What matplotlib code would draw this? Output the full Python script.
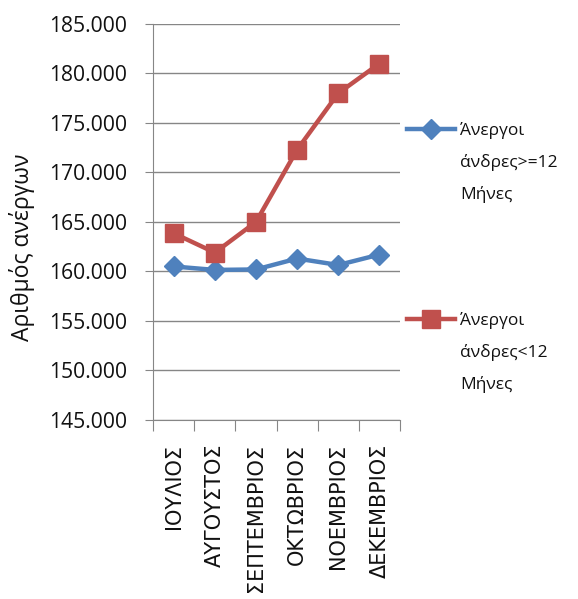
import matplotlib.pyplot as plt
import numpy as np
from matplotlib.lines import Line2D
from matplotlib.ticker import FuncFormatter, FixedLocator, NullFormatter

months = ["ΙΟΥΛΙΟΣ", "ΑΥΓΟΥΣΤΟΣ", "ΣΕΠΤΕΜΒΡΙΟΣ", "ΟΚΤΩΒΡΙΟΣ", "ΝΟΕΜΒΡΙΟΣ", "ΔΕΚΕΜΒΡΙΟΣ"]
long_term = [160500, 160150, 160200, 161300, 160650, 161700]
short_term = [163850, 161900, 165000, 172300, 178000, 181000]
label_long = ["Άνεργοι", "άνδρες>=12", "Μήνες"]
label_short = ["Άνεργοι", "άνδρες<12", "Μήνες"]

blue = "#4F81BD"
red = "#C0504D"
grid_c = "#868686"

plt.rcParams['font.family'] = ['Open Sans', 'DejaVu Sans']

fig = plt.figure(figsize=(5.78, 5.99), dpi=100)
ax = fig.add_axes([0.265, 0.299, 0.427, 0.661])

x = np.arange(len(months))
l1, = ax.plot(x, long_term, color=blue, lw=3.2, marker="D", ms=10)
l2, = ax.plot(x, short_term, color=red, lw=3.2, marker="s", ms=13)

ax.set_xlim(-0.5, len(months) - 0.5)
ax.set_ylim(145000, 185000)
ax.set_yticks(np.arange(145000, 185001, 5000))
ax.yaxis.set_major_formatter(FuncFormatter(lambda v, p: f"{v:,.0f}".replace(",", ".")))
ax.grid(axis="y", color=grid_c, lw=1)
ax.set_axisbelow(True)

ax.xaxis.set_major_locator(FixedLocator(np.arange(-0.5, len(months), 1)))
ax.xaxis.set_major_formatter(NullFormatter())
ax.xaxis.set_minor_locator(FixedLocator(x))
ax.set_xticklabels(months, minor=True, rotation=90, fontsize=15,
                   family=['DejaVu Sans'], color="#111111")
ax.tick_params(axis="x", which="major", length=8, color=grid_c)
ax.tick_params(axis="x", which="minor", length=0, pad=17)
ax.tick_params(axis="y", length=6, color=grid_c, labelsize=15.2, pad=13, labelcolor="#111111")

for s in ["top", "right"]:
    ax.spines[s].set_visible(False)
for s in ["left", "bottom"]:
    ax.spines[s].set_color(grid_c)

ax.set_ylabel("Αριθμός ανέργων", fontsize=16.5, color="#111111")
ax.yaxis.set_label_coords(-0.48, 0.437)

# legend: one row per text line, handle on the first line of each entry
blank = Line2D([], [], alpha=0)
handles = [l1, blank, blank, blank, blank, blank, l2, blank, blank]
labels = label_long + ["", "", ""] + label_short
ax.legend(handles, labels, loc="upper left", bbox_to_anchor=(1.028, 0.752), frameon=False,
          fontsize=12.5, handlelength=2.75, handletextpad=0.3, labelspacing=0.87,
          borderaxespad=0, borderpad=0, labelcolor="#111111")

fig.savefig("out.png", dpi=100)
